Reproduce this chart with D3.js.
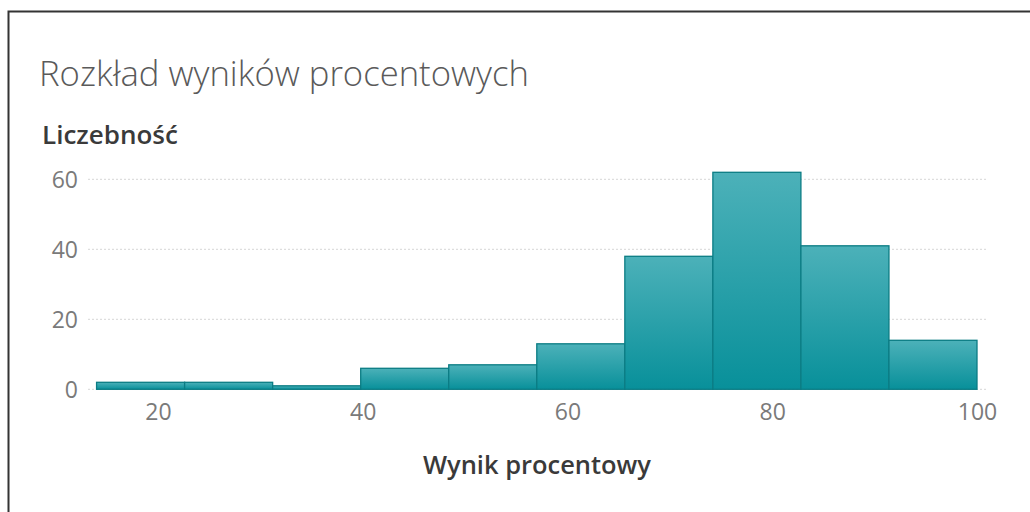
<!DOCTYPE html>
<html><head><meta charset="utf-8">
<script src="https://cdn.jsdelivr.net/npm/d3@7"></script>
<style>
html,body{margin:0;padding:0;background:#fff;}
svg{display:block;font-family:"Open Sans",Lato,sans-serif;}
</style></head>
<body>
<svg id="c" width="1030" height="512"></svg>
<script>
const binEdges = [14, 22.6, 31.2, 39.8, 48.4, 57, 65.6, 74.2, 82.8, 91.4, 100];
const counts = [2, 2, 1, 6, 7, 13, 38, 62, 41, 14];
const xTicks = [20, 40, 60, 80, 100];
const yTicks = [0, 20, 40, 60];
const titleText = "Rozkład wyników procentowych";
const yLabel = "Liczebność";
const xLabel = "Wynik procentowy";

const svg = d3.select("#c");
const x = d3.scaleLinear().domain([20, 100]).range([158, 977]);
const y = d3.scaleLinear().domain([0, 60]).range([389.3, 179.3]);

function fitWidth(sel, target) {
  const w = sel.node().getComputedTextLength();
  const fs = parseFloat(sel.attr("font-size"));
  if (w > 0) sel.attr("font-size", (fs * target / w).toFixed(2));
}

// frame
svg.append("path").attr("d", "M8.5,512 L8.5,11.5 L1030,11.5")
  .attr("fill", "none").attr("stroke", "#333").attr("stroke-width", 2);

const defs = svg.append("defs");
const g = defs.append("linearGradient").attr("id", "bg").attr("x1", 0).attr("y1", 0).attr("x2", 0).attr("y2", 1);
g.append("stop").attr("offset", "0%").attr("stop-color", "#4cb1b9");
g.append("stop").attr("offset", "100%").attr("stop-color", "#08909a");

// title
const t = svg.append("text").attr("x", 39).attr("y", 86).attr("font-size", 32).attr("font-weight", 300)
  .attr("fill", "#5a5a5a").text(titleText);
fitWidth(t, 490);
const yl = svg.append("text").attr("x", 42).attr("y", 144).attr("font-size", 21).attr("font-weight", 600)
  .attr("fill", "#3a3a3a").text(yLabel);
fitWidth(yl, 136);

// grid
svg.append("g").selectAll("line").data(yTicks).join("line")
  .attr("x1", 88).attr("x2", 988).attr("y1", d => y(d)).attr("y2", d => y(d))
  .attr("stroke", "#d6d6d6").attr("stroke-width", 1).attr("stroke-dasharray", "2,2");

// y axis labels
const yAxis = d3.axisLeft(y).tickValues(yTicks).tickSize(0).tickPadding(0);
const ya = svg.append("g").attr("transform", "translate(78,0)").call(yAxis);
ya.select(".domain").remove();
ya.selectAll("text").attr("font-size", 23).attr("font-weight", 400).attr("fill", "#7a7a7a")
  .attr("font-family", "'Open Sans', sans-serif").attr("dy", "0.35em");

// bars
const bins = counts.map((c, i) => ({x0: binEdges[i], x1: binEdges[i + 1], c}));
svg.append("g").selectAll("rect").data(bins).join("rect")
  .attr("x", d => x(d.x0)).attr("width", d => x(d.x1) - x(d.x0))
  .attr("y", d => y(d.c)).attr("height", d => y(0) - y(d.c))
  .attr("fill", "url(#bg)").attr("stroke", "#0b7c84").attr("stroke-width", 1.3);

// x axis labels
const xAxis = d3.axisBottom(x).tickValues(xTicks).tickSize(0).tickPadding(0);
const xa = svg.append("g").attr("transform", "translate(0,404)").call(xAxis);
xa.select(".domain").remove();
xa.selectAll("text").attr("font-size", 23).attr("font-weight", 400).attr("fill", "#7a7a7a")
  .attr("font-family", "'Open Sans', sans-serif").attr("dy", "0.71em");

const xl = svg.append("text").attr("x", 537).attr("y", 474).attr("text-anchor", "middle").attr("font-size", 22)
  .attr("font-weight", 600).attr("fill", "#3a3a3a").text(xLabel);
fitWidth(xl, 228);
</script>
</body></html>
